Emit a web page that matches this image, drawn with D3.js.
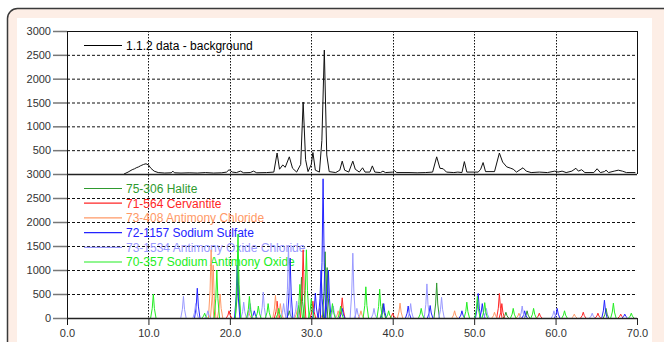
<!DOCTYPE html>
<html>
<head>
<meta charset="utf-8">
<script src="https://cdn.jsdelivr.net/npm/d3@7"></script>
<style>
  html, body { margin: 0; padding: 0; background: #ffffff; }
  svg { display: block; font-family: "Liberation Sans", Arial, sans-serif; }
</style>
</head>
<body>
<svg id="chart" width="664" height="342"></svg>
<script>
// Axis ticks
const xTicks = [0, 10, 20, 30, 40, 50, 60, 70];
const topTicks = [500, 1000, 1500, 2000, 2500, 3000];
const bottomTicks = [0, 500, 1000, 1500, 2000, 2500, 3000];

// Measured scan with background removed: [2-theta, counts]
const measuredName = "1.1.2 data - background";
const measured = [
  [7.0,0],[7.5,40],[8.0,90],[8.3,110],[8.5,130],[8.8,150],[9.0,170],[9.2,185],[9.4,200],[9.7,215],[10.0,190],[10.3,120],
  [10.7,60],[11.2,30],[12.0,20],[12.8,25],[13.0,60],[13.2,25],[14.0,20],[15.0,25],[16.0,20],[17.0,30],
  [18.0,20],[19.0,25],[19.6,40],[19.9,90],[20.3,40],[20.8,30],[21.3,60],[21.7,25],[22.5,30],[22.9,60],
  [23.3,25],[24.5,30],[25.4,40],[25.8,440],[26.1,100],[26.5,190],[26.8,140],[27.3,360],[27.7,120],
  [28.2,40],[28.7,200],[29.0,1510],[29.3,300],[29.6,50],[30.0,200],[30.2,450],[30.5,80],[31.0,40],
  [31.3,700],[31.6,2600],[31.9,400],[32.2,50],[33.0,30],[33.5,80],[33.8,270],[34.1,80],[34.6,40],
  [35.1,270],[35.4,100],[35.9,40],[36.3,130],[36.6,40],[37.2,40],[37.5,170],[37.8,40],[38.5,30],
  [38.8,60],[39.1,30],[40.0,40],[40.2,70],[40.5,30],[42.0,30],[43.0,25],[44.0,30],[44.9,40],[45.4,360],
  [45.8,120],[46.2,110],[46.6,40],[47.5,30],[48.0,40],[48.5,30],[48.8,260],[49.1,40],[50.5,40],
  [50.8,100],[51.1,240],[51.4,50],[52.5,50],[53.1,440],[53.5,250],[54.0,150],[54.5,120],[54.8,100],
  [55.2,40],[56.0,130],[56.4,60],[57.0,30],[58.0,40],[59.0,30],[59.9,60],[60.3,40],[60.8,60],[61.3,30],
  [62.0,60],[62.5,120],[62.8,60],[63.2,90],[63.6,30],[64.7,30],[65.1,110],[65.5,30],[66.0,50],[66.2,80],
  [66.5,30],[67.2,60],[67.7,80],[68.2,60],[68.7,30],[69.8,30]
];

// Reference patterns: peak lists of [2-theta, intensity]
const patternNames = [
  "75-306 Halite",
  "71-564 Cervantite",
  "73-408 Antimony Chloride",
  "72-1157 Sodium Sulfate",
  "73-1534 Antimony Oxide Chloride",
  "70-357 Sodium Antimony Oxide"
];
const patternColors = ["#2f9a2f", "#ff2626", "#ff9966", "#2323ff", "#9999ff", "#22ee22"];

const halite = [[21.0,1000],[27.3,150],[28.8,850],[31.7,1380],[31.95,1050],[38.8,300],[45.4,730],[53.9,120],[56.5,150],[66.2,200]];
const cervantite = [[19.9,150],[25.8,350],[29.0,1420],[30.2,350],[33.8,420],[40.0,100],[53.1,510],[53.4,300],[58.0,100],[63.4,120],[65.2,100],[68.0,80]];
const antimonyChloride = [[17.7,1420],[17.95,1100],[18.8,500],[22.3,150],[25.6,470],[26.2,300],[28.3,200],[31.0,200],[33.3,150],[36.1,150],[40.9,310],[47.6,150],[52.5,120],[55.5,100],[62.3,80]];
const sodiumSulfate = [[16.0,620],[20.9,1100],[23.0,150],[27.4,1250],[30.5,520],[31.2,1000],[31.45,2900],[32.1,1000],[33.8,200],[38.9,300],[41.9,250],[44.6,260],[48.5,150],[50.5,510],[51.0,300],[56.2,150],[60.2,200],[66.0,370],[68.5,80]];
const antimonyOxideChloride = [[14.3,450],[15.8,300],[17.3,150],[21.7,330],[22.5,300],[24.1,540],[26.6,300],[27.2,1500],[28.2,350],[32.7,250],[35.1,1350],[35.6,200],[37.7,200],[42.2,300],[44.2,710],[46.0,430],[51.5,200],[55.9,250],[59.8,150],[64.5,100]];
const sodiumAntimonyOxide = [[10.6,500],[16.9,100],[18.4,1000],[21.0,1750],[22.4,450],[23.5,250],[24.7,300],[26.0,200],[28.6,700],[29.4,1420],[30.0,400],[32.6,300],[33.6,250],[36.7,650],[38.4,600],[39.5,150],[43.5,200],[49.1,330],[50.4,450],[51.3,320],[54.8,200],[57.3,200],[61.1,150],[67.1,310],[69.3,100]];

const patterns = [halite, cervantite, antimonyChloride, sodiumSulfate, antimonyOxideChloride, sodiumAntimonyOxide];

const svg = d3.select("#chart");

// Panel background and frame
svg.append("rect").attr("x", 7.5).attr("y", 8.5).attr("width", 680).attr("height", 360)
  .attr("rx", 10).attr("fill", "#fdeee6").attr("stroke", "#3a3a3a").attr("stroke-width", 1.5);
svg.append("rect").attr("x", 17).attr("y", 18).attr("width", 635).attr("height", 340).attr("fill", "#ffffff");

const x = d3.scaleLinear().domain([0, 70]).range([67, 637]);
const yTop = d3.scaleLinear().domain([0, 3000]).range([174, 31]);
const yBot = d3.scaleLinear().domain([0, 3000]).range([318, 174]);

// Grid
const grid = svg.append("g");
function hGrid(scale, values) {
  grid.selectAll(null).data(values).enter().append("line")
    .attr("x1", 67).attr("x2", 637)
    .attr("y1", d => scale(d) + 0.5).attr("y2", d => scale(d) + 0.5)
    .attr("stroke", "#111").attr("stroke-width", 1).attr("stroke-dasharray", "3,2");
}
hGrid(yTop, [500, 1000, 1500, 2000, 2500]);
hGrid(yBot, [500, 1000, 1500, 2000, 2500]);
grid.selectAll(null).data([10, 20, 30, 40, 50, 60]).enter().append("line")
  .attr("x1", d => Math.round(x(d)) + 0.5).attr("x2", d => Math.round(x(d)) + 0.5)
  .attr("y1", 31).attr("y2", 318)
  .attr("stroke", "#111").attr("stroke-width", 1).attr("stroke-dasharray", "1.5,1.5");

// Axes
const fmtInt = d3.format("d");
function styleAxis(g) {
  g.select(".domain").remove();
  g.selectAll("text").attr("fill", "#333").style("font-size", "11px").style("font-family", "'Liberation Sans', Arial, sans-serif");
}
svg.append("g").attr("transform", "translate(67,0)")
  .call(d3.axisLeft(yTop).tickValues(topTicks).tickFormat(fmtInt).tickSize(14).tickPadding(2))
  .call(styleAxis)
  .selectAll("line").attr("stroke", "#777").attr("stroke-width", 1.5);
svg.append("g").attr("transform", "translate(67,0)")
  .call(d3.axisLeft(yBot).tickValues(bottomTicks).tickFormat(fmtInt).tickSize(14).tickPadding(2))
  .call(styleAxis)
  .selectAll("line").attr("stroke", "#777").attr("stroke-width", 1.5);
svg.append("g").attr("transform", "translate(0,318)")
  .call(d3.axisBottom(x).tickValues(xTicks).tickFormat(d3.format(".1f")).tickSize(7).tickPadding(4))
  .call(styleAxis)
  .selectAll("line").attr("stroke", "#222").attr("stroke-width", 1);

// Legends
const legTop = svg.append("g");
legTop.append("line").attr("x1", 84).attr("x2", 122).attr("y1", 45.5).attr("y2", 45.5).attr("stroke", "#000");
legTop.append("text").attr("x", 126).attr("y", 49.8).attr("fill", "#000").style("font-size", "12px").text(measuredName);

const legBot = svg.append("g");
patternNames.forEach((name, i) => {
  const yy = 188.5 + i * 14.7;
  legBot.append("line").attr("x1", 84).attr("x2", 122).attr("y1", yy).attr("y2", yy)
    .attr("stroke", patternColors[i]).attr("stroke-width", 1.2);
  legBot.append("text").attr("x", 126).attr("y", yy + 4.3).attr("fill", patternColors[i])
    .style("font-size", "12px").text(name);
});

// Measured profile
const lineTop = d3.line().x(d => x(d[0])).y(d => yTop(d[1]));
svg.append("path").attr("d", lineTop(measured)).attr("fill", "none")
  .attr("stroke", "#111").attr("stroke-width", 1).attr("stroke-linejoin", "round");

// Reference patterns, each peak drawn as a narrow profile
const halfWidth = 0.33;
const lineBot = d3.line().x(d => x(d[0])).y(d => yBot(d[1]));
patterns.forEach((peaks, i) => {
  const d = peaks.map(p => lineBot([[p[0] - halfWidth, 0], [p[0] - halfWidth * 0.4, p[1] * 0.4], [p[0], p[1]], [p[0] + halfWidth * 0.4, p[1] * 0.4], [p[0] + halfWidth, 0]])).join("");
  svg.append("path").attr("d", d).attr("fill", "none")
    .attr("stroke", patternColors[i]).attr("stroke-width", 1).attr("stroke-linejoin", "round");
});

// Plot frame lines
svg.append("line").attr("x1", 67.5).attr("x2", 67.5).attr("y1", 31).attr("y2", 325).attr("stroke", "#111");
svg.append("line").attr("x1", 67).attr("x2", 637).attr("y1", 31.5).attr("y2", 31.5).attr("stroke", "#111");
svg.append("line").attr("x1", 637.5).attr("x2", 637.5).attr("y1", 31).attr("y2", 174).attr("stroke", "#111");
svg.append("line").attr("x1", 67).attr("x2", 637).attr("y1", 174.5).attr("y2", 174.5).attr("stroke", "#222").attr("stroke-width", 1.5);
svg.append("line").attr("x1", 67).attr("x2", 637).attr("y1", 318.5).attr("y2", 318.5).attr("stroke", "#222").attr("stroke-width", 1.5);
</script>
</body>
</html>
